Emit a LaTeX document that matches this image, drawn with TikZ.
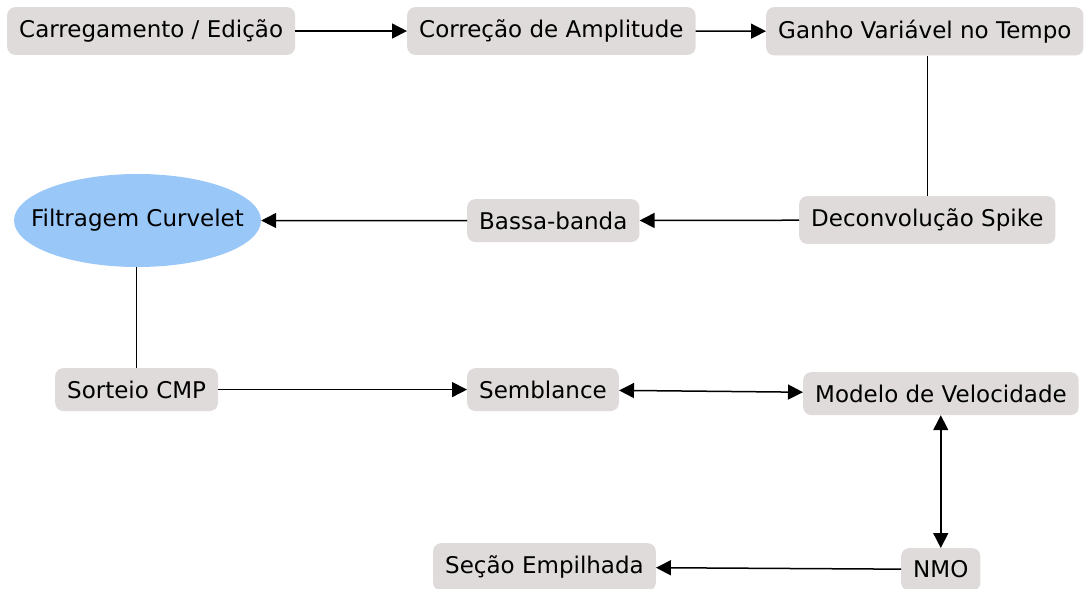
\documentclass[tikz,border=0pt]{standalone}
\usepackage{fontspec}
\setmainfont{DejaVu Sans}
\usetikzlibrary{shapes.geometric,arrows.meta}
\definecolor{boxgray}{HTML}{DEDBDA}
\definecolor{ellblue}{HTML}{99C7F8}
\begin{document}
\begin{tikzpicture}[x=1pt,y=-1pt,
  stepbox/.style={fill=boxgray,rounded corners=8pt,inner xsep=12pt,inner ysep=12.5pt,anchor=north west,font=\fontsize{23}{27}\selectfont},
  ellbox/.style={ellipse,fill=ellblue,minimum width=247pt,minimum height=93pt,inner sep=0pt,font=\fontsize{23}{27}\selectfont},
  conn/.style={line width=1.5pt},
  arr/.style={conn,-{Triangle[length=15pt,width=15pt]}},
  darr/.style={conn,{Triangle[length=15pt,width=15pt]}-{Triangle[length=15pt,width=15pt]}}
]
\useasboundingbox (0,0) rectangle (1088,589);
\node[stepbox] (c1) at (7,7) {Carregamento / Edição};
\node[stepbox] (c2) at (407,7) {Correção de Amplitude};
\node[stepbox] (c3) at (766,7) {Ganho Variável no Tempo};
\node[stepbox] (dec) at (799,196) {Deconvolução Spike};
\node[stepbox] (bas) at (467,199) {Bassa-banda};
\node[ellbox] (fil) at (137.5,220.5) {\makebox[0pt]{Filtragem Curvelet}};
\node[stepbox] (sor) at (55,368) {Sorteio CMP};
\node[stepbox] (sem) at (467,368) {Semblance};
\node[stepbox] (mod) at (803,372) {Modelo de Velocidade};
\node[stepbox] (nmo) at (901,548) {NMO};
\node[stepbox] (sec) at (433,543) {Seção Empilhada};
\draw[arr] (c1) -- (c2);
\draw[arr] (c2) -- (c3);
\draw[conn] (dec.north |- c3.south) -- (dec.north);
\draw[arr] (dec) -- (bas);
\draw[arr] (bas) -- (fil);
\draw[conn] (fil.south -| sor.north) -- (sor.north);
\draw[arr] (sor) -- (sem);
\draw[darr] (sem) -- (mod);
\draw[darr] (mod.south -| nmo.north) -- (nmo.north);
\draw[arr] (nmo) -- (sec);
\end{tikzpicture}
\end{document}
